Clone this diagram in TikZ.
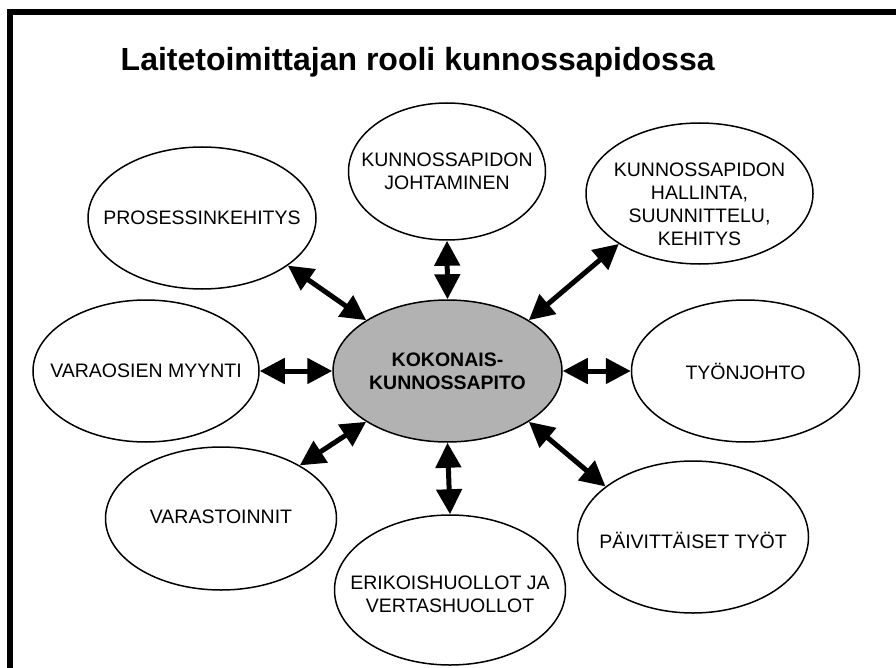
\documentclass[tikz,border=0pt]{standalone}
\usepackage{fontspec}
\setmainfont{Liberation Sans}
\usetikzlibrary{arrows.meta,shapes.geometric}

\tikzset{
  ov/.style={ellipse, draw=black, line width=1.5pt, fill=white, inner sep=0pt},
  hub/.style={ov, fill=gray!60},
  lbl/.style={align=center, inner sep=0pt, text=black,
    font=\fontsize{19.5pt}{23pt}\selectfont},
  hublbl/.style={lbl, font=\fontsize{19.5pt}{23pt}\selectfont\bfseries},
  dbl/.style={line width=5pt,
    {Triangle[length=25pt,width=25pt]}-{Triangle[length=25pt,width=25pt]}},
  frame/.style={line width=6pt, line join=miter},
}

\begin{document}
\begin{tikzpicture}[x=1pt, y=-1pt]
  \useasboundingbox (0,0) rectangle (896,668);
  \clip (0,0) rectangle (896,668);

  % outer frame, running off the right and bottom edges
  \draw[frame] (9.7,700) -- (9.7,12.3) -- (920,12.3);

  % title
  \node[anchor=base west, inner sep=0pt, font=\fontsize{32pt}{36pt}\selectfont\bfseries]
    (title) at (120.5,71) {Laitetoimittajan rooli kunnossapidossa};

  % central ellipse
  \node[hub, minimum width=229pt, minimum height=142pt,
        label={[hublbl]center:KOKONAIS-\\KUNNOSSAPITO}] (c) at (447.5,371) {};

  % surrounding ellipses
  \node[ov, minimum width=197pt, minimum height=137pt,
        label={[lbl]center:KUNNOSSAPIDON\\JOHTAMINEN}] (jo) at (447,171.5) {};
  \node[ov, minimum width=227pt, minimum height=141pt,
        label={[lbl, yshift=-11pt]center:KUNNOSSAPIDON\\HALLINTA,\\SUUNNITTELU,\\KEHITYS}] (tr) at (699.5,193.5) {};
  \node[ov, minimum width=228pt, minimum height=142pt,
        label={[lbl]center:PROSESSINKEHITYS}] (pk) at (202,218) {};
  \node[ov, minimum width=226pt, minimum height=142pt,
        label={[lbl]center:VARAOSIEN MYYNTI}] (vm) at (146,371) {};
  \node[ov, minimum width=228pt, minimum height=142pt,
        label={[lbl]center:TYÖNJOHTO}] (ty) at (745.5,371) {};
  \node[ov, minimum width=231pt, minimum height=143pt,
        label={[lbl, yshift=2pt]center:VARASTOINNIT}] (va) at (221,518.5) {};
  \node[ov, minimum width=231pt, minimum height=150pt,
        label={[lbl, yshift=-4pt]center:ERIKOISHUOLLOT JA\\VERTASHUOLLOT}] (er) at (450,590) {};
  \node[ov, minimum width=231pt, minimum height=152pt,
        label={[lbl, yshift=-3pt]center:PÄIVITTÄISET TYÖT}] (pa) at (693,537) {};

  % two-way arrows between the hub and each ellipse
  \draw[dbl] (c.90)  -- (jo.-90);
  \draw[dbl] (c.32)  -- (tr.212);
  \draw[dbl] (c.148) -- (pk.-29);
  \draw[dbl] (c.180) -- (vm.0);
  \draw[dbl] (c.0)   -- (ty.180);
  \draw[dbl] (c.212) -- (va.34);
  \draw[dbl] (c.-90) -- (er.90);
  \draw[dbl] (c.-32) -- (pa.150);
\end{tikzpicture}
\end{document}
